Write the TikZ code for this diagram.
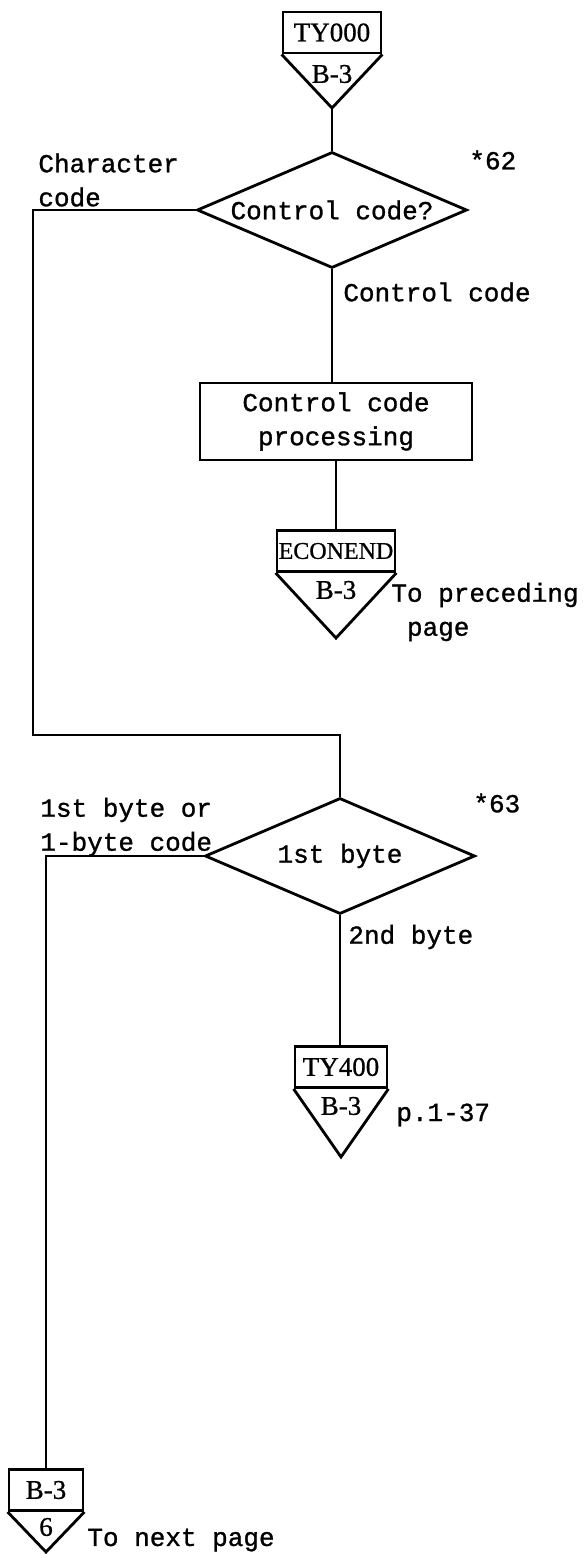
\documentclass[tikz,border=0pt]{standalone}
\usepackage{fontspec}
\setmainfont[BoldFont=Liberation Mono, BoldFeatures={FakeBold=1.1}]{Liberation Mono}
\newfontfamily\cnfont[BoldFont=Liberation Serif, BoldFeatures={FakeBold=0.8}]{Liberation Serif}
\usetikzlibrary{shapes.geometric, positioning}

\tikzset{
  every node/.style={inner sep=0, font=\fontsize{13}{17}\selectfont\bfseries},
  line/.style={line width=1.2pt},
  edge/.style={line width=1.4pt, line join=miter},
  decide/.style={draw, diamond, line width=1.4pt, minimum width=135pt, minimum height=58pt, aspect=2.4},
  proc/.style={draw, rectangle, line width=1.4pt, minimum width=136pt, minimum height=38.5pt, align=center},
  offpage/.style={draw, rectangle, line width=1.4pt, minimum height=20.5pt, font=\cnfont\fontsize{13.5}{15}\selectfont\bfseries},
  pgref/.style={font=\cnfont\fontsize{13.5}{15}\selectfont\bfseries},
  lbl/.style={anchor=west, align=left}
}

\begin{document}
\begin{tikzpicture}[x=0.5pt, y=-0.5pt]
  \useasboundingbox (0,0) rectangle (588,1554);

  % Entry connector
  \node[offpage, minimum width=49pt] (ty000) at (332,32.5) {TY000};
  \coordinate (ty000tip) at (332,108);
  \draw[edge] (ty000.south west) -- (ty000tip) -- (ty000.south east);
  \node[pgref] (ty000pg) at (332,74) {B-3};

  % Control code check
  \node[decide] (ctlq) at (332,210) {Control code?};
  \node[lbl] (ctlqno) at (469,160) {*62};
  \draw[line] (ty000tip) -- (ctlq.north);
  \node[lbl] (charlbl) at (38,180) {Character\\code};
  \node[lbl] (ctllbl) at (343,292) {Control code};

  % Control code processing
  \node[proc] (ccproc) at (336,421.5) {Control code\\processing};
  \draw[line] (ctlq.south) -- (ctlq.south |- ccproc.north);

  % Back to preceding page
  \node[offpage, minimum width=59pt, font=\cnfont\fontsize{12}{15}\selectfont\bfseries] (econend) at (336,551) {ECONEND};
  \coordinate (econendtip) at (336,638);
  \draw[edge] (econend.south west) -- (econendtip) -- (econend.south east);
  \node[pgref] (econendpg) at (336,590) {B-3};
  \draw[line] (ccproc.south) -- (econend.north);
  \node[lbl] (prevlbl) at (391,612) {To preceding\\\hphantom{T}page};

  % 1st byte check
  \node[decide] (byteq) at (340,856) {1st byte};
  \node[lbl] (byteqno) at (473,803) {*63};
  \coordinate (loopa) at (33,210);
  \coordinate (loopb) at (33,735);
  \draw[line] (ctlq.west) -- (loopa) -- (loopb) -| (byteq.north);
  \node[lbl] (firstlbl) at (40,827) {1st byte or\\1-byte code};
  \node[lbl] (secondlbl) at (348,937) {2nd byte};

  % 2nd byte connector
  \node[offpage, minimum width=46pt] (ty400) at (341,1067) {TY400};
  \coordinate (ty400tip) at (341,1157);
  \draw[edge] (ty400.south west) -- (ty400tip) -- (ty400.south east);
  \node[pgref] (ty400pg) at (341,1106) {B-3};
  \draw[line] (byteq.south) -- (byteq.south |- ty400.north);
  \node[lbl] (ty400lbl) at (396,1115) {p.1-37};

  % To next page
  \node[offpage, minimum width=37pt] (bnext) at (46,1490) {B-3};
  \coordinate (bnexttip) at (46,1552);
  \draw[edge] (bnext.south west) -- (bnexttip) -- (bnext.south east);
  \node[pgref] (bnextpg) at (46,1527) {6};
  \coordinate (lefta) at (46,856);
  \draw[line] (byteq.west) -- (lefta) -- (bnext.north);
  \node[lbl] (nextlbl) at (87,1540) {To next page};
\end{tikzpicture}
\end{document}
